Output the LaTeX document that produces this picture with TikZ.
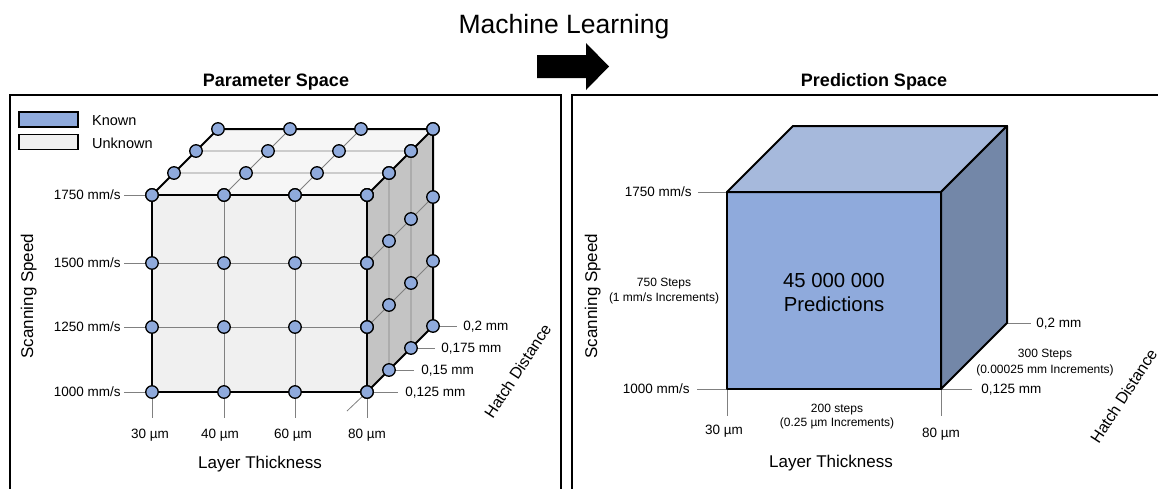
\documentclass[tikz,border=0pt]{standalone}
\usepackage{fontspec}
\setmainfont{Liberation Sans}
\usepackage{tikz}
\usetikzlibrary{positioning}
\definecolor{knownblue}{HTML}{8FAADC}
\definecolor{frontgray}{HTML}{F0F0F0}
\definecolor{topgray}{HTML}{F6F6F6}
\definecolor{sidegray}{HTML}{C4C4C4}
\definecolor{predtop}{HTML}{A6B9DC}
\definecolor{predside}{HTML}{7387A8}
\tikzset{
    known/.style = {circle, line width=1.3pt, draw=black, fill=knownblue, minimum size=12.5pt, inner sep=0pt},
    legbox/.style = {draw=black, line width=1.5pt, minimum width=59pt, minimum height=15pt, inner sep=0pt},
    edgek/.style = {line width=2pt, draw=black, line join=round}, % cube edges
    edgeg/.style = {line width=0.8pt, gray}, % grid
    tick/.style = {line width=0.8pt, gray},
    panel/.style = {line width=2pt, black},
    lbl/.style = {font=\fontsize{13.5}{16}\selectfont, text=black, inner sep=0pt, text height=9.7pt, text depth=0pt},
    leg/.style = {font=\fontsize{14.5}{17}\selectfont, inner sep=0pt, text height=10.4pt, text depth=0pt},
    small/.style = {font=\fontsize{12}{14}\selectfont, inner sep=0pt, text height=8.6pt, text depth=0pt},
    axis/.style = {font=\fontsize{17}{20}\selectfont, inner sep=0pt, text height=12.2pt, text depth=0pt},
    axish/.style = {font=\fontsize{16}{19}\selectfont, inner sep=0pt, text height=11.5pt, text depth=0pt},
    big/.style = {font=\fontsize{20.3}{24}\selectfont, inner sep=0pt, text height=14.5pt, text depth=0pt},
    title/.style = {font=\bfseries\fontsize{18}{21}\selectfont, inner sep=0pt, text height=13pt, text depth=0pt},
    headline/.style = {font=\fontsize{26.5}{30}\selectfont, inner sep=0pt, text height=19pt, text depth=0pt}
}

\begin{document}
\begin{tikzpicture}[x=1pt, y=-1pt]
    \useasboundingbox (0,0) rectangle (1158,488);

    % headline and arrow
    \node[headline] (ml) at (564,23.5) {Machine Learning};
    \fill (537,55) -- (586,55) -- (586,43) -- (609,66.5) -- (586,90) -- (586,78) -- (537,78) -- cycle;

    % panels
    \draw[panel] (10,500) -- (10,95) -- (561,95) -- (561,500);
    \draw[panel] (572,500) -- (572,95) -- (1165,95);
    \node[title] (pspace) at (276,79.5) {Parameter Space};
    \node[title] (prspace) at (874,79.5) {Prediction Space};

    % legend
    \node[legbox, fill=knownblue] (kbox) at (48.5,119.5) {};
    \node[legbox, fill=frontgray] (ubox) at (48.5,142) {};
    \node[leg, anchor=west] (ktxt) at (92,120) {Known};
    \node[leg, anchor=west] (utxt) at (92,143) {Unknown};

    % parameter cube
    \foreach \i/\x in {0/152,1/224,2/295,3/367}
      \foreach \j/\y in {0/392,1/327,2/263,3/195}
        \foreach \k in {0,...,3}
          \coordinate (p\i\j\k) at (\x+22*\k, \y-22*\k);

    \fill[frontgray] (p000) -- (p300) -- (p330) -- (p030) -- cycle;
    \fill[topgray] (p030) -- (p330) -- (p333) -- (p033) -- cycle;
    \fill[sidegray] (p300) -- (p303) -- (p333) -- (p330) -- cycle;

    \foreach \n in {1,2} {
      \draw[edgeg] (p\n00) -- (p\n30) (p0\n0) -- (p3\n0); % front
      \draw[edgeg] (p\n30) -- (p\n33) (p03\n) -- (p33\n); % top
      \draw[edgeg] (p30\n) -- (p33\n) (p3\n0) -- (p3\n3); % side
    }

    \foreach \j/\v in {0/1000,1/1250,2/1500,3/1750}
      \draw[tick] (p0\j0) -- ++(-28,0) node[lbl, anchor=east, xshift=-3pt] (sp\j) {\v\ mm/s};
    \foreach \i/\v/\dx in {0/30/-2,1/40/-4,2/60/-2,3/80/0} {
      \draw[tick] (p\i00) -- ++(0,26) coordinate (tb\i);
      \node[lbl, below=11pt of tb\i, xshift=\dx pt] (lt\i) {\v\ µm};
    }
    \draw[tick] (p300) -- ++(-20,19);
    \draw[tick] (p300) -- ++(31,0) node[lbl, anchor=west, xshift=7pt] (hd0) {0,125 mm};
    \draw[tick] (p301) -- ++(25,0) node[lbl, anchor=west, xshift=7pt] (hd1) {0,15 mm};
    \draw[tick] (p302) -- ++(24,0) node[lbl, anchor=west, xshift=6pt] (hd2) {0,175 mm};
    \draw[tick] (p303) -- ++(24,0) node[lbl, anchor=west, xshift=6pt] (hd3) {0,2 mm};

    \draw[edgek] (p000) rectangle (p330);
    \draw[edgek] (p030) -- (p033) -- (p333) -- (p330);
    \draw[edgek] (p300) -- (p303) -- (p333);

    \foreach \i in {0,...,3}
      \foreach \j in {0,...,3} {
        \node[known] (f\i\j) at (p\i\j0) {};
        \node[known] (t\i\j) at (p\i3\j) {};
        \node[known] (r\i\j) at (p3\i\j) {};
      }

    \node[axis, rotate=90] (ssl) at (27,296) {Scanning Speed};
    \node[axis] (ltl) at (260,462) {Layer Thickness};
    \node[axish, rotate=57] (hdl) at (517.5,371) {Hatch Distance};

    % prediction cube
    \coordinate (fbl) at (727,389);
    \coordinate (fbr) at (941,389);
    \coordinate (ftr) at (941,192);
    \coordinate (ftl) at (727,192);
    \coordinate (btl) at (793,126);
    \coordinate (btr) at (1007,126);
    \coordinate (bbr) at (1007,323);

    \draw[tick] (ftl) -- ++(-29,0) node[lbl, anchor=east, xshift=-6pt] (ps1) {1750 mm/s};
    \draw[tick] (fbl) -- ++(-30,0) node[lbl, anchor=east, xshift=-7pt] (ps0) {1000 mm/s};
    \draw[tick] (fbl) -- ++(0,27) coordinate (pb0);
    \draw[tick] (fbr) -- ++(0,27) coordinate (pb1);
    \node[lbl, below=9pt of pb0, xshift=-3pt] (pt0) {30 µm};
    \node[lbl, below=12pt of pb1] (pt1) {80 µm};
    \draw[tick] (bbr) -- ++(24,0) node[lbl, anchor=west, xshift=5pt] (ph1) {0,2 mm};
    \draw[tick] (fbr) -- ++(31,0) node[lbl, anchor=west, xshift=9pt] (ph0) {0,125 mm};

    \filldraw[edgek, fill=knownblue] (fbl) rectangle (ftr);
    \filldraw[edgek, fill=predtop] (ftl) -- (btl) -- (btr) -- (ftr) -- cycle;
    \filldraw[edgek, fill=predside] (fbr) -- (ftr) -- (btr) -- (bbr) -- cycle;

    \node[big] (np1) at (834,280) {45 000 000};
    \node[big, below=9.5pt of np1] (np2) {Predictions};

    \node[small] (st1) at (664,282) {750 Steps};
    \node[small, below=5.9pt of st1] (st2) {(1 mm/s Increments)};
    \node[small] (st3) at (837,408) {200 steps};
    \node[small, below=5.4pt of st3] (st4) {(0.25 µm Increments)};
    \node[small] (st5) at (1045,353) {300 Steps};
    \node[small, below=7pt of st5] (st6) {(0.00025 mm Increments)};

    \node[axis, rotate=90] (pssl) at (591,296) {Scanning Speed};
    \node[axis] (pltl) at (831,461) {Layer Thickness};
    \node[axish, rotate=57] (phdl) at (1123.5,396) {Hatch Distance};

\end{tikzpicture}
\end{document}
